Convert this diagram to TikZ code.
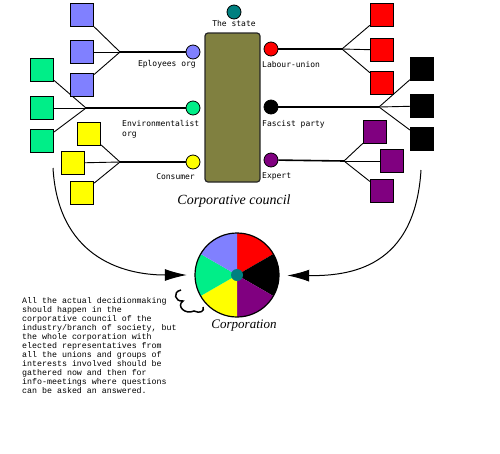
\documentclass[tikz,border=0pt]{standalone}
\usepackage{fontspec}
\setmainfont{Liberation Serif}
\newfontfamily\labelfont{DejaVu Sans Mono}
\newfontfamily\notefont{Liberation Mono}
\usetikzlibrary{arrows.meta,backgrounds}
\definecolor{empblue}{RGB}{128,128,255}
\definecolor{envgreen}{RGB}{0,238,136}
\definecolor{consyellow}{RGB}{255,255,0}
\definecolor{unionred}{RGB}{255,0,0}
\definecolor{expertpurple}{RGB}{128,0,128}
\definecolor{stateteal}{RGB}{0,128,128}
\definecolor{councilolive}{RGB}{128,128,64}
\tikzset{
  member/.style={draw, line width=1.2pt, minimum size=23pt, inner sep=0pt},
  org/.style={circle, draw, line width=0.8pt, minimum size=14pt, inner sep=0pt},
  orglabel/.style={font=\labelfont\fontsize{8}{10}\selectfont, inner sep=0pt},
  fan/.style={line width=0.9pt},
  trunk/.style={line width=1.6pt},
  bigarrow/.style={line width=1pt, -{Latex[length=22pt,width=12pt]}}
}
\begin{document}
\begin{tikzpicture}[x=1pt, y=-1pt]
    \useasboundingbox (0,0) rectangle (500,453);

    % Council (olive block) and the state
    \node[draw=black!85, fill=councilolive, rounded corners=3pt, line width=1.2pt,
          minimum width=55pt, minimum height=149pt] (council) at (232.5,107.5) {};
    \node[org, fill=stateteal] (state) at (234,12) {};
    \node[orglabel] (statelabel) at (234,24) {The state};
    \node[font=\itshape\fontsize{14}{16}\selectfont] (councillabel) at (234,201) {Corporative council};

    % Organisations (left)
    \node[org, fill=empblue] (emp) at (193,52) {};
    \node[org, fill=envgreen] (env) at (193,108) {};
    \node[org, fill=consyellow] (cons) at (193,162) {};
    \node[orglabel, anchor=east] (emplabel) at (196,64) {Eployees org};
    \node[orglabel, anchor=north west, align=left] (envlabel) at (122,120) {Environmentalist\\org};
    \node[orglabel, anchor=east] (conslabel) at (195,177) {Consumer};

    % Organisations (right)
    \node[org, fill=unionred] (union) at (271,49) {};
    \node[org, fill=black] (fasc) at (271,107) {};
    \node[org, fill=expertpurple] (expert) at (271,160) {};
    \node[orglabel, anchor=west] (unionlabel) at (262,65) {Labour-union};
    \node[orglabel, anchor=west] (fasclabel) at (262,124) {Fascist party};
    \node[orglabel, anchor=west] (expertlabel) at (262,176) {Expert};

    % Members (squares)
    \node[member, fill=empblue] (e1) at (82,15) {};
    \node[member, fill=empblue] (e2) at (82,52) {};
    \node[member, fill=empblue] (e3) at (82,85) {};
    \node[member, fill=envgreen] (g1) at (42,70) {};
    \node[member, fill=envgreen] (g2) at (42,108) {};
    \node[member, fill=envgreen] (g3) at (42,141) {};
    \node[member, fill=consyellow] (c1) at (89,134) {};
    \node[member, fill=consyellow] (c2) at (73,163) {};
    \node[member, fill=consyellow] (c3) at (82,193) {};
    \node[member, fill=unionred] (u1) at (382,15) {};
    \node[member, fill=unionred] (u2) at (382,50) {};
    \node[member, fill=unionred] (u3) at (382,83) {};
    \node[member, fill=black] (f1) at (422,69) {};
    \node[member, fill=black] (f2) at (422,106) {};
    \node[member, fill=black] (f3) at (422,139) {};
    \node[member, fill=expertpurple] (x1) at (375,132) {};
    \node[member, fill=expertpurple] (x2) at (392,161) {};
    \node[member, fill=expertpurple] (x3) at (382,191) {};

    % Junctions
    \coordinate (empj) at (120,52);
    \coordinate (envj) at (86,108);
    \coordinate (consj) at (120,162);
    \coordinate (unionj) at (342,49);
    \coordinate (fascj) at (379,107);
    \coordinate (expertj) at (344,161);

    % Connections (behind the squares)
    \begin{scope}[on background layer]
        \draw[trunk] (empj) -- (emp);
        \draw[trunk] (envj) -- (env);
        \draw[trunk] (consj) -- (cons);
        \draw[trunk] (unionj) -- (union);
        \draw[trunk] (fascj) -- (fasc);
        \draw[trunk] (expertj) -- (expert);
        \foreach \s in {e1,e2,e3} \draw[fan] (empj) -- (\s);
        \foreach \s in {g1,g2,g3} \draw[fan] (envj) -- (\s);
        \foreach \s in {c1,c2,c3} \draw[fan] (consj) -- (\s);
        \foreach \s in {u1,u2,u3} \draw[fan] (unionj) -- (\s);
        \foreach \s in {f1,f2,f3} \draw[fan] (fascj) -- (\s);
        \foreach \s in {x1,x2,x3} \draw[fan] (expertj) -- (\s);
    \end{scope}

    % Corporation (pie)
    \node[circle, minimum size=84pt, inner sep=0pt] (pie) at (237,275) {};
    \foreach \a/\c in {-90/unionred, -30/black, 30/expertpurple, 90/consyellow, 150/envgreen, 210/empblue}
        \fill[\c] (pie.center) -- ++(\a:42) arc[start angle=\a, end angle=\a+60, radius=42] -- cycle;
    \draw[line width=1.2pt] (pie.center) circle[radius=42];
    \node[circle, fill=stateteal, minimum size=12pt, inner sep=0pt] (hub) at (pie.center) {};
    \node[font=\itshape\fontsize{13}{15}\selectfont] (pielabel) at (244,326) {Corporation};

    % Arrows into the corporation
    \coordinate (lstart) at (53,168);
    \coordinate (rstart) at (421,170);
    \draw[bigarrow, shorten >=8pt] (lstart) .. controls (58,255) and (120,275) .. (pie);
    \draw[bigarrow, shorten >=8pt] (rstart) .. controls (415,268) and (350,276) .. (pie);

    % Squiggle
    \draw[line width=1.5pt] (181,290) .. controls (172,292) and (175,302) .. (183,301)
        .. controls (176,306) and (185,315) .. (194,311) .. controls (200,314) and (205,311) .. (203,307);

    % Note
    \node[anchor=north west, align=left, inner sep=0pt,
          font=\notefont\fontsize{8.3}{9}\selectfont] (note) at (22,297)
        {All the actual decidionmaking\\should happen in the\\corporative council of the\\
         industry/branch of society, but\\the whole corporation with\\elected representatives from\\
         all the unions and groups of\\interests involved should be\\gathered now and then for\\
         info-meetings where questions\\can be asked an answered.};
\end{tikzpicture}
\end{document}
